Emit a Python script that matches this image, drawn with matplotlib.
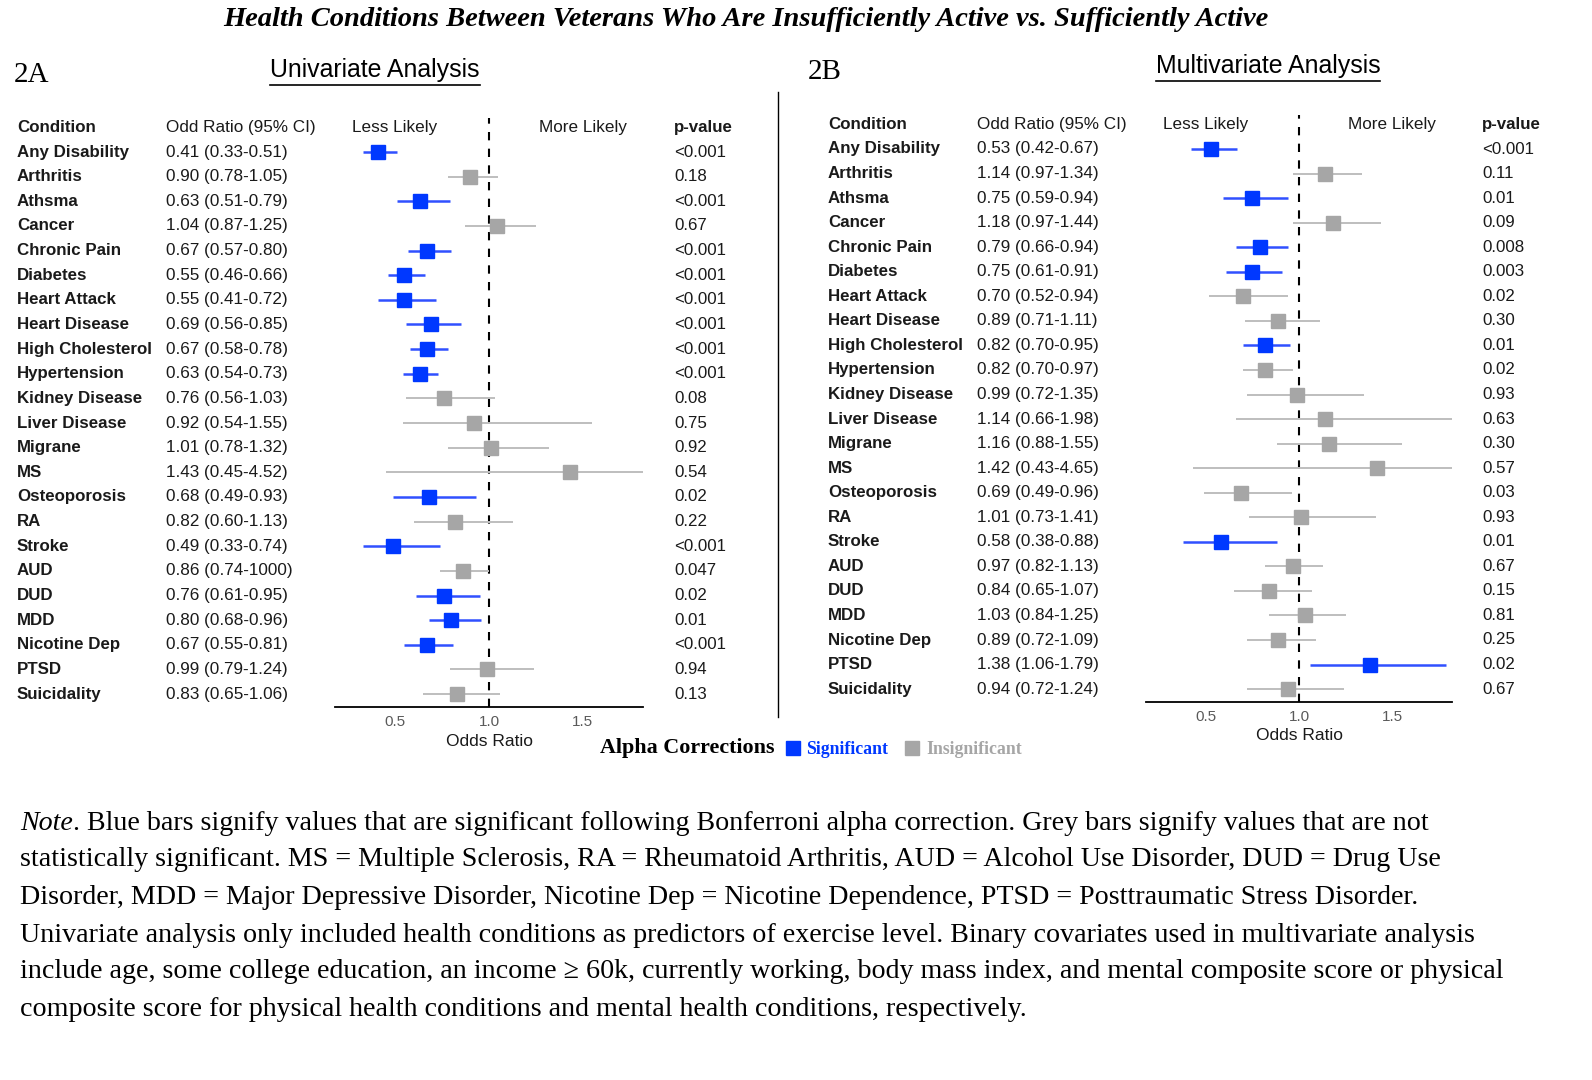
import matplotlib
matplotlib.use("Agg")
import matplotlib.pyplot as plt
from matplotlib.transforms import blended_transform_factory
from matplotlib.lines import Line2D
from matplotlib.patches import Rectangle

# ---- data ----
conditions = ["Any Disability", "Arthritis", "Athsma", "Cancer", "Chronic Pain", "Diabetes",
              "Heart Attack", "Heart Disease", "High Cholesterol", "Hypertension",
              "Kidney Disease", "Liver Disease", "Migrane", "MS", "Osteoporosis", "RA",
              "Stroke", "AUD", "DUD", "MDD", "Nicotine Dep", "PTSD", "Suicidality"]

uni_or = [0.41, 0.90, 0.63, 1.04, 0.67, 0.55, 0.55, 0.69, 0.67, 0.63, 0.76, 0.92,
          1.01, 1.43, 0.68, 0.82, 0.49, 0.86, 0.76, 0.80, 0.67, 0.99, 0.83]
uni_lo = [0.33, 0.78, 0.51, 0.87, 0.57, 0.46, 0.41, 0.56, 0.58, 0.54, 0.56, 0.54,
          0.78, 0.45, 0.49, 0.60, 0.33, 0.74, 0.61, 0.68, 0.55, 0.79, 0.65]
uni_hi = [0.51, 1.05, 0.79, 1.25, 0.80, 0.66, 0.72, 0.85, 0.78, 0.73, 1.03, 1.55,
          1.32, 4.52, 0.93, 1.13, 0.74, 1.00, 0.95, 0.96, 0.81, 1.24, 1.06]
# AUD upper bound is printed as "1000" in the source table
uni_hi_text = ["0.51", "1.05", "0.79", "1.25", "0.80", "0.66", "0.72", "0.85", "0.78", "0.73",
               "1.03", "1.55", "1.32", "4.52", "0.93", "1.13", "0.74", "1000", "0.95", "0.96",
               "0.81", "1.24", "1.06"]
uni_p = ["<0.001", "0.18", "<0.001", "0.67", "<0.001", "<0.001", "<0.001", "<0.001", "<0.001",
         "<0.001", "0.08", "0.75", "0.92", "0.54", "0.02", "0.22", "<0.001", "0.047", "0.02",
         "0.01", "<0.001", "0.94", "0.13"]
uni_sig = [1, 0, 1, 0, 1, 1, 1, 1, 1, 1, 0, 0, 0, 0, 1, 0, 1, 0, 1, 1, 1, 0, 0]

multi_or = [0.53, 1.14, 0.75, 1.18, 0.79, 0.75, 0.70, 0.89, 0.82, 0.82, 0.99, 1.14,
            1.16, 1.42, 0.69, 1.01, 0.58, 0.97, 0.84, 1.03, 0.89, 1.38, 0.94]
multi_lo = [0.42, 0.97, 0.59, 0.97, 0.66, 0.61, 0.52, 0.71, 0.70, 0.70, 0.72, 0.66,
            0.88, 0.43, 0.49, 0.73, 0.38, 0.82, 0.65, 0.84, 0.72, 1.06, 0.72]
multi_hi = [0.67, 1.34, 0.94, 1.44, 0.94, 0.91, 0.94, 1.11, 0.95, 0.97, 1.35, 1.98,
            1.55, 4.65, 0.96, 1.41, 0.88, 1.13, 1.07, 1.25, 1.09, 1.79, 1.24]
multi_p = ["<0.001", "0.11", "0.01", "0.09", "0.008", "0.003", "0.02", "0.30", "0.01", "0.02",
           "0.93", "0.63", "0.30", "0.57", "0.03", "0.93", "0.01", "0.67", "0.15", "0.81",
           "0.25", "0.02", "0.67"]
multi_sig = [1, 0, 1, 0, 1, 1, 0, 0, 1, 0, 0, 0, 0, 0, 0, 0, 1, 0, 0, 0, 0, 1, 0]

note_lines = [
    ". Blue bars signify values that are significant following Bonferroni alpha correction. Grey bars signify values that are not",
    "statistically significant. MS = Multiple Sclerosis, RA = Rheumatoid Arthritis, AUD = Alcohol Use Disorder, DUD = Drug Use",
    "Disorder, MDD = Major Depressive Disorder, Nicotine Dep = Nicotine Dependence, PTSD = Posttraumatic Stress Disorder.",
    "Univariate analysis only included health conditions as predictors of exercise level. Binary covariates used in multivariate analysis",
    "include age, some college education, an income \u2265 60k, currently working, body mass index, and mental composite score or physical",
    "composite score for physical health conditions and mental health conditions, respectively.",
]

BLUE = "#0038FF"
BLUE_LINE = "#3050FF"
GREY = "#A6A6A6"
GREY_LINE = "#BEBEBE"
SANS = ["Liberation Sans", "DejaVu Sans"]
SERIF = ["Liberation Serif", "DejaVu Serif"]
TXT = "#1a1a1a"

W, H = 1592, 1080
fig = plt.figure(figsize=(W / 100, H / 100), dpi=100)


def fx(px):
    return px / W


def fy(py):
    return 1 - py / H


def forest(left, right, top, bottom, row0, step, cols, ors, los, his, hi_txt, pvals, sig):
    ax = fig.add_axes([fx(left), fy(bottom), fx(right - left), (bottom - top) / H])
    ax.set_xlim(0.18, 1.82)
    ax.set_ylim((bottom - row0) / step, (top - row0) / step)
    for i in range(len(conditions)):
        lc = BLUE_LINE if sig[i] else GREY_LINE
        mc = BLUE if sig[i] else GREY
        lw = 1.8 if sig[i] else 1.4
        ax.plot([los[i], his[i]], [i, i], color=lc, lw=lw, solid_capstyle="butt", zorder=2)
        ax.plot(ors[i], i, marker="s", ms=10, color=mc, mec=mc, zorder=3)
    ax.axvline(1.0, color="black", ls=(0, (4, 4)), lw=1.5, zorder=1)
    for s in ["top", "right", "left"]:
        ax.spines[s].set_visible(False)
    ax.spines["bottom"].set_linewidth(1.3)
    ax.set_yticks([])
    ax.set_xticks([0.5, 1.0, 1.5])
    ax.set_xticklabels(["0.5", "1.0", "1.5"])
    ax.tick_params(axis="x", length=0, pad=6, labelsize=11, labelcolor="#5a5a5a")
    for lab in ax.get_xticklabels():
        lab.set_family(SANS)
    ax.set_xlabel("Odds Ratio", fontsize=12.5, family=SANS, color=TXT, labelpad=3)

    # header row
    ax.text(0.5, -1, "Less Likely", ha="center", va="center", fontsize=12.3, family=SANS, color=TXT)
    ax.text(1.5, -1, "More Likely", ha="center", va="center", fontsize=12.3, family=SANS, color=TXT)

    tr = blended_transform_factory(fig.transFigure, ax.transData)
    xc, xo, xp = cols
    ax.text(fx(xc), -1, "Condition", transform=tr, ha="left", va="center", fontsize=12.2,
            family=SANS, weight="bold", color=TXT)
    ax.text(fx(xo), -1, "Odd Ratio (95% CI)", transform=tr, ha="left", va="center", fontsize=12.3,
            family=SANS, color=TXT)
    ax.text(fx(xp), -1, "p-value", transform=tr, ha="left", va="center", fontsize=12.2,
            family=SANS, weight="bold", color=TXT)
    for i, c in enumerate(conditions):
        ax.text(fx(xc), i, c, transform=tr, ha="left", va="center", fontsize=12.2,
                family=SANS, weight="bold", color=TXT)
        ax.text(fx(xo), i, f"{ors[i]:.2f} ({los[i]:.2f}-{hi_txt[i]})", transform=tr, ha="left",
                va="center", fontsize=12.3, family=SANS, color=TXT)
        ax.text(fx(xp), i, pvals[i], transform=tr, ha="left", va="center", fontsize=12.2,
                family=SANS, color=TXT)
    return ax


forest(335, 643, 118, 707, 152, 24.64, (17, 166, 674),
       uni_or, uni_lo, uni_hi, uni_hi_text, uni_p, uni_sig)
forest(1146, 1452, 115, 702, 149, 24.55, (828, 977, 1482),
       multi_or, multi_lo, multi_hi, [f"{v:.2f}" for v in multi_hi], multi_p, multi_sig)

# title & panel headers
fig.text(fx(746), fy(19), "Health Conditions Between Veterans Who Are Insufficiently Active vs. Sufficiently Active",
         ha="center", va="center", fontsize=20.5, family=SERIF, weight="bold", style="italic")
fig.text(fx(14), fy(75), "2A", ha="left", va="center", fontsize=21, family=SERIF)
fig.text(fx(808), fy(72), "2B", ha="left", va="center", fontsize=21, family=SERIF)

renderer = fig.canvas.get_renderer()
for cx, cy, s in [(375, 70, "Univariate Analysis"), (1268, 66, "Multivariate Analysis")]:
    t = fig.text(fx(cx), fy(cy), s, ha="center", va="center", fontsize=17.9, family=SANS)
    bb = t.get_window_extent(renderer)
    yline = bb.y0 / H - 0.003
    fig.add_artist(Line2D([bb.x0 / W, bb.x1 / W], [yline, yline], color="black", lw=1.2))

# separator line
fig.add_artist(Line2D([fx(778), fx(778)], [fy(92), fy(717)], color="black", lw=1.0))

# legend
fig.text(fx(600), fy(748), "Alpha Corrections", ha="left", va="center", fontsize=15.8,
         family=SERIF, weight="bold")
fig.add_artist(Rectangle((fx(786), fy(755)), fx(14), 14 / H, color=BLUE, transform=fig.transFigure))
fig.text(fx(806), fy(749), "Significant", ha="left", va="center", fontsize=12.8,
         family=SERIF, weight="bold", color=BLUE)
fig.add_artist(Rectangle((fx(905), fy(755)), fx(14), 14 / H, color=GREY, transform=fig.transFigure))
fig.text(fx(926), fy(749), "Insignificant", ha="left", va="center", fontsize=12.8,
         family=SERIF, weight="bold", color=GREY)

# note
note_y = [823, 860, 897, 935, 972, 1010]
NOTE_FS = 20.2
nt = fig.text(fx(20), fy(note_y[0]), "Note", ha="left", va="center", fontsize=NOTE_FS,
              family=SERIF, style="italic")
nb = nt.get_window_extent(renderer)
fig.text(nb.x1 / W, fy(note_y[0]), note_lines[0], ha="left", va="center", fontsize=NOTE_FS, family=SERIF)
for y, line in zip(note_y[1:], note_lines[1:]):
    fig.text(fx(20), fy(y), line, ha="left", va="center", fontsize=NOTE_FS, family=SERIF)

fig.savefig("out.png", dpi=100)
